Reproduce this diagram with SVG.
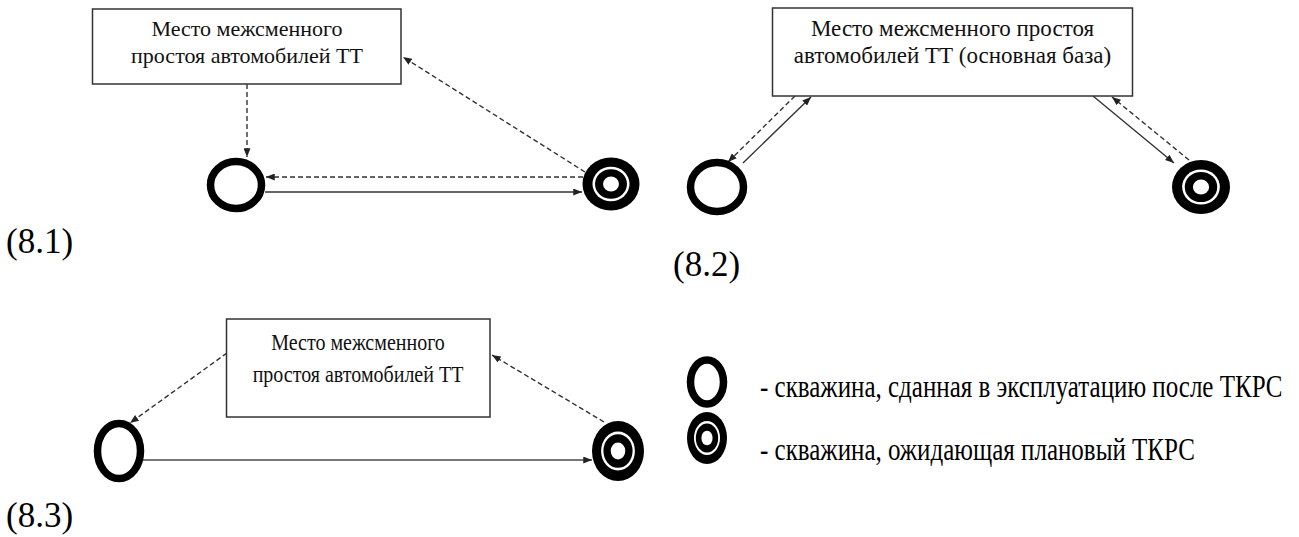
<svg xmlns="http://www.w3.org/2000/svg" width="1299" height="537" viewBox="0 0 1299 537">
<style>
.bg{fill:#fff}
.box{fill:#fff;stroke:#333;stroke-width:1.5}
.t{font-family:"Liberation Serif","Times New Roman",serif;fill:#111;text-anchor:middle}
.lab{font-family:"Liberation Serif","Times New Roman",serif;fill:#000;font-size:35px}
.leg{font-family:"Liberation Serif","Times New Roman",serif;fill:#000;font-size:25px}
.well{fill:none;stroke:#000;stroke-width:7.5}
.dash{fill:none;stroke:#333;stroke-width:1.4;stroke-dasharray:5 3;marker-end:url(#ah)}
.solid{fill:none;stroke:#333;stroke-width:1.4;marker-end:url(#ah)}
.solid2{fill:none;stroke:#777;stroke-width:2;marker-end:url(#ah)}
</style>
<defs>
<marker id="ah" viewBox="0 0 10 8" refX="10" refY="4" markerWidth="9" markerHeight="7" orient="auto" markerUnits="userSpaceOnUse">
<path d="M0,0 L10,4 L0,8 z" fill="#222"/>
</marker>
<g id="target">
<circle r="1" fill="#000"/>
<circle r="0.65" fill="#fff"/>
<circle r="0.56" fill="#000"/>
<circle r="0.28" fill="#fff"/>
</g>
</defs>
<rect class="bg" x="0" y="0" width="1299" height="537"/>

<g id="connectors">
<line class="dash" x1="247" y1="84" x2="247" y2="157"/>
<line class="dash" x1="583" y1="177" x2="266" y2="177"/>
<line class="solid" x1="265" y1="192" x2="582" y2="192"/>
<line class="dash" x1="585" y1="172" x2="403" y2="57"/>
<line class="dash" x1="795" y1="96" x2="728" y2="162"/>
<line class="solid" x1="743" y1="163" x2="811" y2="97"/>
<line class="solid" x1="1093" y1="96" x2="1174" y2="163"/>
<line class="dash" x1="1189" y1="160" x2="1112" y2="97"/>
<line class="dash" x1="227" y1="353" x2="130" y2="423"/>
<line class="solid2" x1="143" y1="460" x2="592" y2="460"/>
<line class="dash" x1="604" y1="422" x2="492" y2="355"/>
</g>

<g id="box1">
<rect class="box" x="92.5" y="9" width="308.5" height="75"/>
<text class="t" x="247" y="36" font-size="22">Место межсменного</text>
<text class="t" x="247" y="63" font-size="22">простоя автомобилей ТТ</text>
</g>
<g id="well1"><ellipse class="well" cx="236" cy="185" rx="25.5" ry="23.5"/></g>
<g id="target1"><use href="#target" transform="translate(611,184) scale(28.5,26.5)"/></g>
<g id="label1"><text class="lab" x="6" y="253">(8.1)</text></g>

<g id="box2">
<rect class="box" x="772.5" y="8" width="360" height="88"/>
<text class="t" x="952.5" y="36" font-size="23">Место межсменного простоя</text>
<text class="t" x="952.5" y="63" font-size="23">автомобилей ТТ (основная база)</text>
</g>
<g id="well2"><ellipse class="well" cx="717" cy="187" rx="26.5" ry="24.5"/></g>
<g id="target2"><use href="#target" transform="translate(1201,187) scale(29,27)"/></g>
<g id="label2"><text class="lab" x="673" y="276">(8.2)</text></g>

<g id="box3">
<rect class="box" x="226.5" y="319" width="263.5" height="98"/>
<text class="t" transform="translate(358,350) scale(1,1.2)" font-size="20">Место межсменного</text>
<text class="t" transform="translate(358,382) scale(1,1.2)" font-size="20">простоя автомобилей ТТ</text>
</g>
<g id="well3"><ellipse class="well" cx="119" cy="451" rx="21.5" ry="27.5"/></g>
<g id="target3"><use href="#target" transform="translate(618,451) scale(26,30)"/></g>
<g id="label3"><text class="lab" x="6" y="527">(8.3)</text></g>

<g id="legend">
<ellipse class="well" cx="707" cy="382" rx="16.5" ry="22"/>
<use href="#target" transform="translate(707,438) scale(20,26)"/>
<text class="leg" transform="translate(760,397) scale(1,1.3)">- скважина, сданная в эксплуатацию после ТКРС</text>
<text class="leg" transform="translate(760,460) scale(1,1.3)">- скважина, ожидающая плановый ТКРС</text>
</g>
</svg>
